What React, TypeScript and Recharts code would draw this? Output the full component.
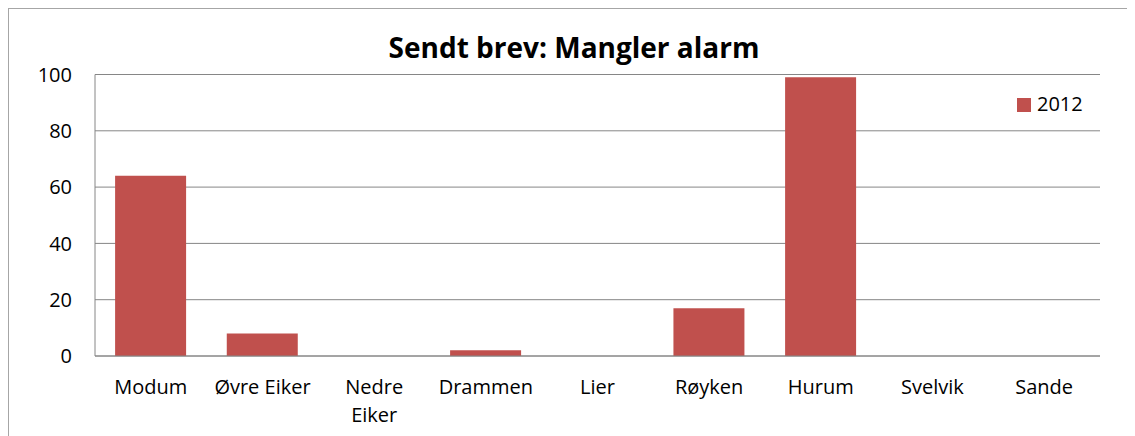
import React from "react";
import {
  BarChart,
  Bar,
  XAxis,
  YAxis,
  CartesianGrid,
  Legend,
} from "recharts";

const categories = [
  "Modum",
  "Øvre Eiker",
  "Nedre Eiker",
  "Drammen",
  "Lier",
  "Røyken",
  "Hurum",
  "Svelvik",
  "Sande",
];
const values2012 = [64, 8, 0, 2, 0, 17, 99, 0, 0];
const yTicks = [0, 20, 40, 60, 80, 100];

const data = categories.map((name, i) => ({ name, v2012: values2012[i] }));

const FONT = "'Open Sans', 'Noto Sans', sans-serif";
const BAR_COLOR = "#C0504D";
const LINE_COLOR = "#868686";

// wrap long labels onto two lines, like the original
function wrapLabel(label: string): string[] {
  if (label.length > 10 && label.includes(" ")) return label.split(" ");
  return [label];
}

const XTick = (props: any) => {
  const { x, y, payload } = props;
  const lines = wrapLabel(String(payload.value));
  return (
    <text x={x} y={y} textAnchor="middle" fill="#000" fontSize={20} fontFamily={FONT}>
      {lines.map((l, i) => (
        <tspan key={i} x={x} dy={i === 0 ? 0 : 28}>
          {l}
        </tspan>
      ))}
    </text>
  );
};

const LegendContent = (props: any) => {
  const items = props.payload || [];
  return (
    <div style={{ fontFamily: FONT }}>
      {items.map((item: any) => (
        <div
          key={item.value}
          style={{ position: "relative", height: 28, lineHeight: "28px", fontSize: 20, color: "#000" }}
        >
          <span
            style={{
              position: "absolute",
              left: 0,
              top: 8,
              width: 14,
              height: 14,
              backgroundColor: item.color,
            }}
          />
          <span style={{ position: "absolute", left: 20, top: 0 }}>{item.value}</span>
        </div>
      ))}
    </div>
  );
};

export default function App() {
  return (
    <div
      style={{
        position: "relative",
        width: 1127,
        height: 428,
        boxSizing: "border-box",
        borderTop: "1px solid #a6a6a6",
        borderLeft: "1px solid #a6a6a6",
        fontFamily: FONT,
        background: "#fff",
      }}
    >
      <div
        style={{
          position: "absolute",
          left: 0,
          top: 25,
          width: 1130,
          textAlign: "center",
          fontSize: 28,
          lineHeight: "27px",
          fontWeight: 700,
          color: "#000",
          zIndex: 2,
        }}
      >
        Sendt brev: Mangler alarm
      </div>
      <BarChart
        width={1126}
        height={427}
        data={data}
        margin={{ top: 65.5, right: 35, left: 26, bottom: 10 }}
        barCategoryGap="18%"
      >
        <CartesianGrid vertical={false} stroke={LINE_COLOR} />
        <XAxis
          dataKey="name"
          height={70}
          tickLine={false}
          tickSize={0}
          tickMargin={38}
          stroke={LINE_COLOR}
          interval={0}
          tick={<XTick />}
        />
        <YAxis
          width={60}
          domain={[0, 100]}
          ticks={yTicks}
          tickLine={false}
          tickSize={0}
          tickMargin={23}
          stroke={LINE_COLOR}
          tick={{ fill: "#000", fontSize: 20, fontFamily: FONT }}
        />
        <Legend
          layout="vertical"
          align="center"
          verticalAlign="middle"
          content={<LegendContent />}
          wrapperStyle={{ left: 1008, top: 81, width: 100 }}
        />
        <Bar dataKey="v2012" name="2012" fill={BAR_COLOR} isAnimationActive={false} />
      </BarChart>
    </div>
  );
}
